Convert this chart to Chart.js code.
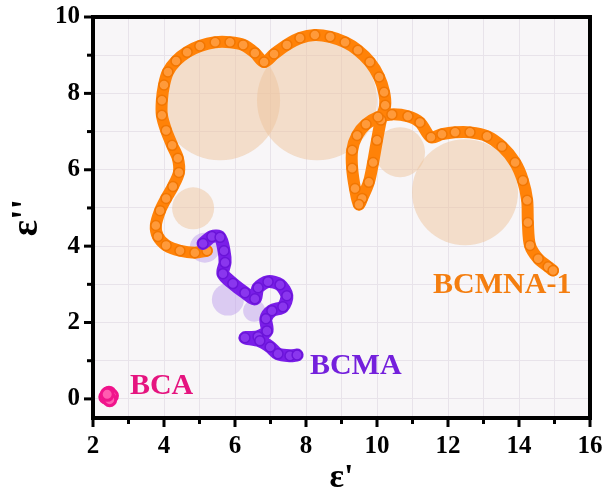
<!DOCTYPE html>
<html>
<head>
<meta charset="utf-8">
<script src="https://cdn.jsdelivr.net/npm/chart.js@4.4.1/dist/chart.umd.min.js"></script>
<style>
  body { margin: 0; background: #fff; }
  canvas { display: block; }
</style>
</head>
<body>
<canvas id="coleChart" width="606" height="499"></canvas>
<script>
// axis ticks (labelled majors, plus unlabelled minors)
const xTickLabels = [2, 4, 6, 8, 10, 12, 14, 16];
const yTickLabels = [0, 2, 4, 6, 8, 10];
const xMinorTicks = [2, 3, 4, 5, 6, 7, 8, 9, 10, 11, 12, 13, 14, 15, 16];
const yMinorTicks = [0, 1, 2, 3, 4, 5, 6, 7, 8, 9, 10];

// BCMNA-1 (orange)
const bcmnaX = [5.21, 4.87, 4.45, 4.06, 3.83, 3.77, 3.89, 4.06, 4.25, 4.42, 4.39, 4.23, 4.06, 3.94, 3.94, 4.0, 4.11, 4.34, 4.65, 5.01,
  5.44, 5.86, 6.23, 6.56, 6.82, 7.1, 7.46, 7.83, 8.25, 8.68, 9.1, 9.46, 9.8, 10.06, 10.2, 10.23,
  10.11, 10.0, 9.89, 9.77, 9.58, 9.49, 9.38, 9.3, 9.3, 9.44, 9.69, 10.03, 10.42, 10.87, 11.21, 11.52,
  11.83, 12.2, 12.62, 13.1, 13.52, 13.89, 14.11, 14.23, 14.25, 14.31, 14.54, 14.82, 14.96];
const bcmnaY = [3.88, 3.83, 3.88, 4.02, 4.25, 4.54, 4.93, 5.25, 5.56, 5.93, 6.3, 6.64, 7.03, 7.43, 7.82, 8.22, 8.56, 8.85, 9.08, 9.24,
  9.34, 9.34, 9.27, 9.06, 8.82, 9.03, 9.27, 9.45, 9.53, 9.48, 9.34, 9.13, 8.82, 8.43, 8.03, 7.69,
  7.3, 6.77, 6.19, 5.67, 5.25, 5.09, 5.51, 6.04, 6.51, 6.9, 7.19, 7.38, 7.45, 7.4, 7.24, 6.85,
  6.93, 6.98, 6.98, 6.88, 6.61, 6.19, 5.72, 5.2, 4.62, 4.02, 3.67, 3.46, 3.36];

// BCMA (purple)
const bcmaX = [5.1, 5.35, 5.58, 5.69, 5.72, 5.66, 5.94, 6.28, 6.56, 6.65, 6.93, 7.27, 7.46, 7.35, 7.04, 6.87, 6.9, 6.65, 6.28, 6.7, 6.99, 7.21, 7.55, 7.75];
const bcmaY = [4.07, 4.25, 4.23, 3.88, 3.57, 3.28, 3.02, 2.78, 2.62, 2.91, 3.07, 2.99, 2.7, 2.41, 2.31, 2.1, 1.78, 1.63, 1.6, 1.52, 1.36, 1.18, 1.13, 1.15];

// BCA (pink)
const bcaX = [2.36, 2.45, 2.52, 2.47, 2.4];
const bcaY = [0.05, 0.15, 0.08, -0.02, 0.12];

// fitted semicircle discs: centre (ε', ε'') and bubble radius
const fitX = [5.58, 8.31, 10.65, 12.48, 4.82];
const fitY = [7.82, 7.82, 6.46, 5.41, 4.99];
const fitR = [60, 60, 25, 53, 21];
const fitBX = [5.15, 5.8, 6.54];
const fitBY = [3.96, 2.6, 2.31];
const fitBR = [15, 16, 11];

const toPts = (xs, ys) => xs.map((x, i) => ({ x: x, y: ys[i] }));
const toBubbles = (xs, ys, rs) => xs.map((x, i) => ({ x: x, y: ys[i], r: rs[i] }));

const seriesLabels = [
  { text: "BCMNA-1", x: 11.58, y: 2.78, color: "#f47e10" },
  { text: "BCMA", x: 8.11, y: 0.66, color: "#7420dc" },
  { text: "BCA", x: 3.04, y: 0.13, color: "#e5147f" },
];

const serif = "'Liberation Serif', 'Times New Roman', serif";
const gridColor = "#e8e3ea";

function noPad(s) {
  s.paddingTop = 0;
  s.paddingBottom = 0;
  s.paddingLeft = 0;
  s.paddingRight = 0;
}

const framePlugin = {
  id: "frame",
  beforeDraw(chart) {
    const { ctx, chartArea: a } = chart;
    ctx.save();
    ctx.fillStyle = "#f8f6f8";
    ctx.fillRect(a.left, a.top, a.right - a.left, a.bottom - a.top);
    ctx.restore();
  },
  afterDraw(chart) {
    const { ctx, chartArea: a, scales } = chart;
    ctx.save();
    // series names
    ctx.font = "bold 30px " + serif;
    ctx.textAlign = "left";
    ctx.textBaseline = "alphabetic";
    seriesLabels.forEach((l) => {
      ctx.fillStyle = l.color;
      ctx.fillText(l.text, scales.x.getPixelForValue(l.x), scales.y.getPixelForValue(l.y));
    });
    // frame
    ctx.strokeStyle = "#000";
    ctx.lineWidth = 4;
    ctx.strokeRect(a.left, a.top, a.right - a.left, a.bottom - a.top);
    // tick marks outside
    ctx.lineWidth = 3;
    scales.x.ticks.forEach((t) => {
      const px = scales.x.getPixelForValue(t.value);
      const len = xTickLabels.includes(t.value) ? 9 : 6;
      ctx.beginPath();
      ctx.moveTo(px, a.bottom);
      ctx.lineTo(px, a.bottom + len);
      ctx.stroke();
    });
    scales.y.ticks.forEach((t) => {
      const py = scales.y.getPixelForValue(t.value);
      const len = yTickLabels.includes(t.value) ? 9 : 6;
      ctx.beginPath();
      ctx.moveTo(a.left, py);
      ctx.lineTo(a.left - len, py);
      ctx.stroke();
    });
    ctx.restore();
  },
};

const ctx = document.getElementById("coleChart").getContext("2d");

new Chart(ctx, {
  type: "scatter",
  plugins: [framePlugin],
  data: {
    datasets: [
      {
        type: "bubble",
        label: "fit",
        data: toBubbles(fitX, fitY, fitR),
        backgroundColor: "rgba(238, 196, 156, 0.5)",
        borderWidth: 0,
        order: 10,
      },
      {
        type: "bubble",
        label: "fitB",
        data: toBubbles(fitBX, fitBY, fitBR),
        backgroundColor: "rgba(190, 160, 236, 0.5)",
        borderWidth: 0,
        order: 9,
      },
      {
        label: "BCMNA-1",
        data: toPts(bcmnaX, bcmnaY),
        showLine: true,
        tension: 0.3,
        borderColor: "#ff8208",
        borderWidth: 12,
        borderCapStyle: "round",
        borderJoinStyle: "round",
        pointRadius: 5,
        pointBorderWidth: 1.5,
        pointBorderColor: "#f27600",
        pointBackgroundColor: "#ff9a3a",
        order: 3,
      },
      {
        label: "BCMA",
        data: toPts(bcmaX, bcmaY),
        showLine: true,
        tension: 0.3,
        borderColor: "#7a1ee8",
        borderWidth: 13,
        borderCapStyle: "round",
        borderJoinStyle: "round",
        pointRadius: 5,
        pointBorderWidth: 1.5,
        pointBorderColor: "#6a14d8",
        pointBackgroundColor: "#8a36ee",
        order: 2,
      },
      {
        label: "BCA",
        data: toPts(bcaX, bcaY),
        showLine: false,
        pointRadius: 6,
        pointBorderWidth: 3,
        pointBorderColor: "#f0148c",
        pointBackgroundColor: "#ff5cb0",
        order: 1,
      },
    ],
  },
  options: {
    responsive: false,
    animation: false,
    layout: { autoPadding: false, padding: { top: 17, right: 16, left: 0, bottom: 0 } },
    plugins: { legend: { display: false }, tooltip: { enabled: false } },
    scales: {
      x: {
        type: "linear",
        min: 2,
        max: 16,
        afterBuildTicks: (s) => { s.ticks = xMinorTicks.map((v) => ({ value: v })); },
        afterFit: (s) => { s.height = 81; noPad(s); },
        grid: { drawTicks: false, color: gridColor },
        border: { display: false },
        ticks: {
          padding: 14,
          autoSkip: false,
          maxRotation: 0,
          color: "#000",
          font: { family: serif, size: 25, weight: "bold" },
          callback: (v) => (xTickLabels.includes(v) ? String(v) : ""),
        },
        title: {
          display: true,
          text: "ε'",
          color: "#000",
          font: { family: serif, size: 34, weight: "bold" },
          padding: { top: 0, bottom: 0 },
        },
      },
      y: {
        type: "linear",
        min: -0.5,
        max: 10,
        afterBuildTicks: (s) => { s.ticks = yMinorTicks.map((v) => ({ value: v })); },
        afterFit: (s) => { s.width = 93; noPad(s); },
        grid: { drawTicks: false, color: gridColor },
        border: { display: false },
        ticks: {
          padding: 13,
          autoSkip: false,
          color: "#000",
          font: { family: serif, size: 25, weight: "bold" },
          callback: (v) => (yTickLabels.includes(v) ? String(v) : ""),
        },
        title: {
          display: true,
          text: "ε''",
          color: "#000",
          font: { family: serif, size: 38, weight: "bold" },
          padding: { top: 4, bottom: 0 },
        },
      },
    },
  },
});
</script>
</body>
</html>
